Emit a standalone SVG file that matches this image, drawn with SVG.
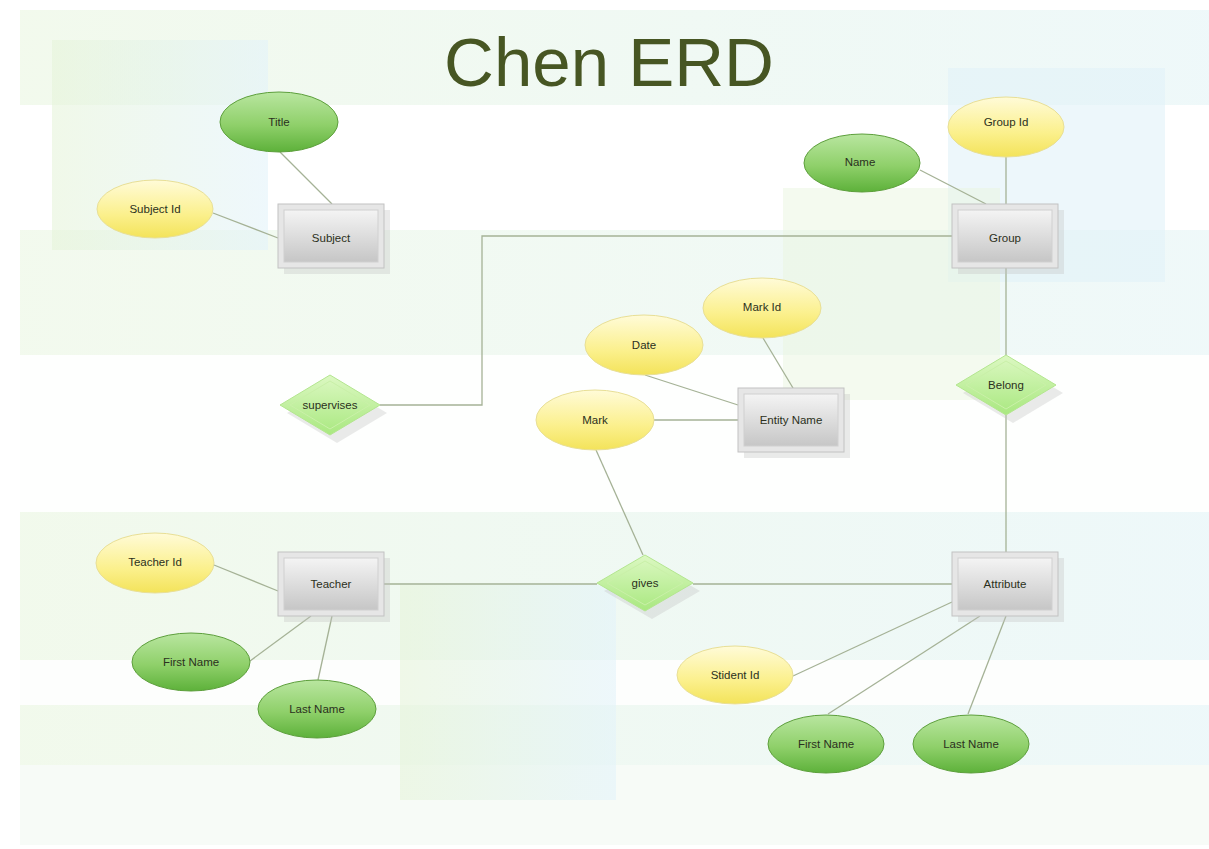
<svg xmlns="http://www.w3.org/2000/svg" width="1209" height="849" viewBox="0 0 1209 849">
<defs>
<linearGradient id="gY" x1="0" y1="0" x2="0" y2="1"><stop offset="0" stop-color="#fffbd8"/><stop offset="0.6" stop-color="#fbf08c"/><stop offset="1" stop-color="#f3e35a"/></linearGradient>
<linearGradient id="gG" x1="0" y1="0" x2="0" y2="1"><stop offset="0" stop-color="#b9e6a0"/><stop offset="0.55" stop-color="#8fd06a"/><stop offset="1" stop-color="#5db13a"/></linearGradient>
<linearGradient id="gR" x1="0" y1="0" x2="0" y2="1"><stop offset="0" stop-color="#f4f4f4"/><stop offset="1" stop-color="#c6c6c6"/></linearGradient>
<linearGradient id="gD" x1="0" y1="0" x2="0" y2="1"><stop offset="0" stop-color="#dcf8c2"/><stop offset="1" stop-color="#a9e880"/></linearGradient>
<linearGradient id="bgH" x1="0" y1="0" x2="1" y2="0"><stop offset="0" stop-color="#eef8e6"/><stop offset="1" stop-color="#e8f6fb"/></linearGradient>
<linearGradient id="bgV" x1="0" y1="0" x2="1" y2="0"><stop offset="0" stop-color="#e6f4da"/><stop offset="1" stop-color="#e3f3fa"/></linearGradient>
</defs>
<style>
.ey{fill:url(#gY);stroke:#e8df96;stroke-width:1}
.eg{fill:url(#gG);stroke:#5d9f3c;stroke-width:1}
.ro{fill:#e6e6e6;stroke:#c2c2c2;stroke-width:1}
.ri{fill:url(#gR);stroke:#d0d0d0;stroke-width:1}
.sh{fill:#c4c4c4;opacity:0.35}
.dm{fill:url(#gD);stroke:#b4e690;stroke-width:1}
.di{fill:none;stroke:#c9f0a8;stroke-width:1}
.t{font-family:"Liberation Sans",Arial,sans-serif;font-size:11.5px;fill:#2b3020;text-anchor:middle;dominant-baseline:central}
.c{stroke:#a5b296;stroke-width:1.3;fill:none}
</style>
<rect x="0" y="0" width="1209" height="849" fill="#ffffff"/>
<g id="background">
<rect x="20" y="10" width="1189" height="835" fill="#f8fcf7"/>
<rect x="20" y="10" width="1189" height="95" fill="url(#bgH)" opacity="0.6"/>
<rect x="20" y="105" width="1189" height="125" fill="#ffffff" opacity="0.9"/>
<rect x="20" y="230" width="1189" height="125" fill="url(#bgH)" opacity="0.55"/>
<rect x="20" y="355" width="1189" height="157" fill="#ffffff" opacity="0.85"/>
<rect x="20" y="512" width="1189" height="148" fill="url(#bgH)" opacity="0.65"/>
<rect x="20" y="660" width="1189" height="45" fill="#ffffff" opacity="0.7"/>
<rect x="20" y="705" width="1189" height="60" fill="url(#bgH)" opacity="0.65"/>
<rect x="20" y="765" width="1189" height="80" fill="#f6fbf6" opacity="0.9"/>
<rect x="52" y="40" width="216" height="210" fill="url(#bgV)" opacity="0.6"/>
<rect x="948" y="68" width="217" height="214" fill="#e1f2f8" opacity="0.6"/>
<rect x="783" y="188" width="217" height="212" fill="#e9f5df" opacity="0.5"/>
<rect x="400" y="585" width="216" height="215" fill="url(#bgV)" opacity="0.6"/>
</g>
<text x="609" y="86" font-family="Liberation Sans,Arial,sans-serif" font-size="69" fill="#475623" text-anchor="middle">Chen ERD</text>
<g id="connectors">
<line class="c" x1="280" y1="152" x2="332" y2="204"/>
<line class="c" x1="213" y1="213" x2="278" y2="238"/>
<line class="c" x1="920" y1="170" x2="986" y2="204"/>
<line class="c" x1="1006" y1="157" x2="1006" y2="204"/>
<line class="c" x1="1006" y1="268" x2="1006" y2="355"/>
<line class="c" x1="1006" y1="415" x2="1006" y2="552"/>
<polyline class="c" points="380,405 482,405 482,236 952,236"/>
<line class="c" x1="645" y1="375" x2="738" y2="405"/>
<line class="c" x1="763" y1="338" x2="793" y2="388"/>
<line class="c" x1="654" y1="420" x2="738" y2="420"/>
<line class="c" x1="596" y1="450" x2="643" y2="555"/>
<line class="c" x1="384" y1="584" x2="597" y2="584"/>
<line class="c" x1="693" y1="584" x2="952" y2="584"/>
<line class="c" x1="214" y1="565" x2="278" y2="591"/>
<line class="c" x1="250" y1="661" x2="311" y2="616"/>
<line class="c" x1="318" y1="680" x2="332" y2="616"/>
<line class="c" x1="793" y1="676" x2="952" y2="602"/>
<line class="c" x1="828" y1="714" x2="980" y2="616"/>
<line class="c" x1="968" y1="714" x2="1006" y2="616"/>
</g>
<g id="subject">
<rect class="sh" x="284" y="210" width="106" height="64"/>
<rect class="ro" x="278" y="204" width="106" height="64"/>
<rect class="ri" x="284" y="210" width="94" height="52"/>
<text class="t" x="331" y="238">Subject</text>
</g>
<g id="title-attr"><ellipse class="eg" cx="279" cy="122" rx="59" ry="30"/><text class="t" x="279" y="122">Title</text></g>
<g id="subject-id"><ellipse class="ey" cx="155" cy="209" rx="58" ry="29"/><text class="t" x="155" y="209">Subject Id</text></g>
<g id="group">
<rect class="sh" x="958" y="210" width="106" height="64"/>
<rect class="ro" x="952" y="204" width="106" height="64"/>
<rect class="ri" x="958" y="210" width="94" height="52"/>
<text class="t" x="1005" y="238">Group</text>
</g>
<g id="group-id"><ellipse class="ey" cx="1006" cy="127" rx="58" ry="30"/><text class="t" x="1006" y="122">Group Id</text></g>
<g id="name"><ellipse class="eg" cx="862" cy="163" rx="58" ry="29"/><text class="t" x="860" y="162">Name</text></g>
<g id="belong">
<polygon class="sh" points="1013,363 1063,393 1013,423 963,393"/>
<polygon class="dm" points="1006,355 1056,385 1006,415 956,385"/>
<polygon class="di" points="1006,361 1046,385 1006,409 966,385"/>
<text class="t" x="1006" y="385">Belong</text>
</g>
<g id="attribute">
<rect class="sh" x="958" y="558" width="106" height="64"/>
<rect class="ro" x="952" y="552" width="106" height="64"/>
<rect class="ri" x="958" y="558" width="94" height="52"/>
<text class="t" x="1005" y="584">Attribute</text>
</g>
<g id="supervises">
<polygon class="sh" points="337,383 387,413 337,443 287,413"/>
<polygon class="dm" points="330,375 380,405 330,435 280,405"/>
<polygon class="di" points="330,381 370,405 330,429 290,405"/>
<text class="t" x="330" y="405">supervises</text>
</g>
<g id="entity-name">
<rect class="sh" x="744" y="394" width="106" height="64"/>
<rect class="ro" x="738" y="388" width="106" height="64"/>
<rect class="ri" x="744" y="394" width="94" height="52"/>
<text class="t" x="791" y="420">Entity Name</text>
</g>
<g id="date"><ellipse class="ey" cx="644" cy="345" rx="59" ry="30"/><text class="t" x="644" y="345">Date</text></g>
<g id="mark-id"><ellipse class="ey" cx="762" cy="308" rx="59" ry="30"/><text class="t" x="762" y="307">Mark Id</text></g>
<g id="mark"><ellipse class="ey" cx="595" cy="420" rx="59" ry="30"/><text class="t" x="595" y="420">Mark</text></g>
<g id="gives">
<polygon class="sh" points="652,563 700,591 652,619 604,591"/>
<polygon class="dm" points="645,555 693,583 645,611 597,583"/>
<polygon class="di" points="645,561 683,583 645,605 607,583"/>
<text class="t" x="645" y="583">gives</text>
</g>
<g id="teacher">
<rect class="sh" x="284" y="558" width="106" height="64"/>
<rect class="ro" x="278" y="552" width="106" height="64"/>
<rect class="ri" x="284" y="558" width="94" height="52"/>
<text class="t" x="331" y="584">Teacher</text>
</g>
<g id="teacher-id"><ellipse class="ey" cx="155" cy="563" rx="59" ry="30"/><text class="t" x="155" y="562">Teacher Id</text></g>
<g id="teacher-first-name"><ellipse class="eg" cx="191" cy="662" rx="59" ry="29"/><text class="t" x="191" y="662">First Name</text></g>
<g id="teacher-last-name"><ellipse class="eg" cx="317" cy="709" rx="59" ry="29"/><text class="t" x="317" y="709">Last Name</text></g>
<g id="stident-id"><ellipse class="ey" cx="735" cy="675" rx="58" ry="29"/><text class="t" x="735" y="675">Stident Id</text></g>
<g id="student-first-name"><ellipse class="eg" cx="826" cy="744" rx="58" ry="29"/><text class="t" x="826" y="744">First Name</text></g>
<g id="student-last-name"><ellipse class="eg" cx="971" cy="744" rx="58" ry="29"/><text class="t" x="971" y="744">Last Name</text></g>
</svg>
